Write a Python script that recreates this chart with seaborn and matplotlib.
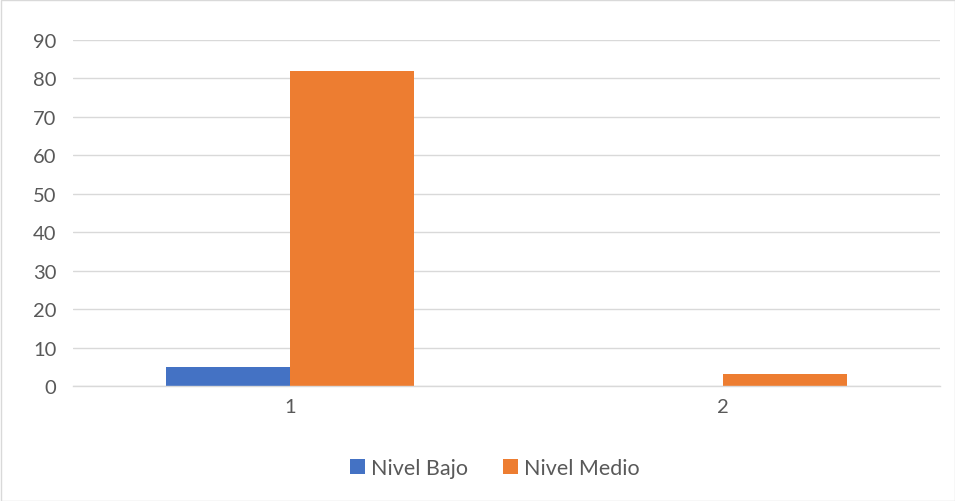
import matplotlib
matplotlib.use("Agg")
import matplotlib.pyplot as plt
import seaborn as sns
import pandas as pd
from matplotlib.patches import Rectangle, Patch

categories = ["1", "2"]
series = ["Nivel Bajo", "Nivel Medio"]
nivel_bajo = [5, 0]
nivel_medio = [82, 3]
yticks = [0, 10, 20, 30, 40, 50, 60, 70, 80, 90]

df = pd.DataFrame({
    "cat": categories * 2,
    "serie": [series[0]] * 2 + [series[1]] * 2,
    "val": nivel_bajo + nivel_medio,
})

sns.set_theme(style="white")
plt.rcParams['font.family'] = ['Lato', 'DejaVu Sans']
colors = ["#4472C4", "#ED7D31"]

fig = plt.figure(figsize=(9.55, 5.02), dpi=100)
ax = fig.add_axes([73/955, 1-387/502, (940-73)/955, (387-41)/502])
sns.barplot(data=df, x="cat", y="val", hue="serie", palette=colors,
            width=0.572, saturation=1, ax=ax, legend=False, linewidth=0)
ax.set_xlim(-0.5, 1.5)
ax.set_ylim(0, 90)
ax.set_yticks(yticks)
ax.yaxis.grid(True, color="#D9D9D9", linewidth=1)
ax.set_axisbelow(True)
for s in ["top", "right", "left"]:
    ax.spines[s].set_visible(False)
ax.spines["bottom"].set_color("#D9D9D9")
ax.spines["bottom"].set_linewidth(1)
ax.tick_params(axis="both", length=0, labelsize=14.5, labelcolor="#595959", pad=9)
ax.tick_params(axis="y", pad=12)
ax.set_xlabel("")
ax.set_ylabel("")

handles = [Patch(facecolor=c, edgecolor="none") for c in colors]
fig.legend(handles, series, loc="center", bbox_to_anchor=(0.518, 1-469/502),
           ncol=2, frameon=False, fontsize=15.5, labelcolor="#595959",
           handlelength=0.7, handleheight=0.7, handletextpad=0.3, columnspacing=1.6)

fig.add_artist(Rectangle((0.5/955, 0.5/502), 1-1/955, 1-1/502, transform=fig.transFigure,
                         fill=False, edgecolor="#D9D9D9", linewidth=1))
fig.savefig("out.png", dpi=100)
